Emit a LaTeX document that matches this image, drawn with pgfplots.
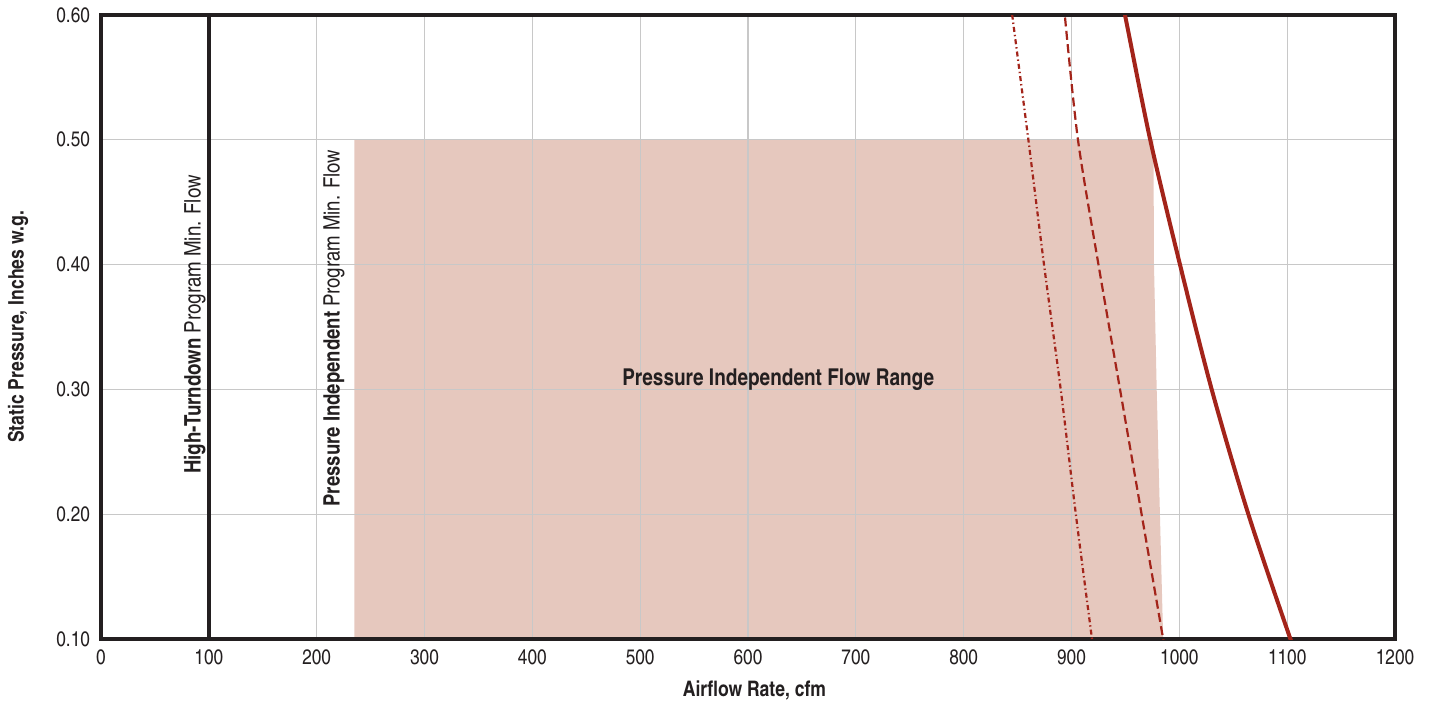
\documentclass[border=0pt]{standalone}
\usepackage{fontspec}
\setmainfont{texgyreheroscn}[Extension=.otf, UprightFont=*-regular, BoldFont=*-bold, ItalicFont=*-italic, BoldItalicFont=*-bolditalic]
\usepackage{pgfplots}
\pgfplotsset{compat=1.18}
\definecolor{frame}{HTML}{231F20}
\definecolor{gridgray}{HTML}{C8C8C8}
\definecolor{shade}{HTML}{E6C8BE}
\definecolor{curve}{HTML}{A3241A}
\begin{document}
\begin{tikzpicture}
\begin{axis}[
  at={(0,0)}, anchor=south west,
  scale only axis, width=647pt, height=312pt,
  xmin=0, xmax=1200, ymin=0.1, ymax=0.6,
  xtick={0,100,200,300,400,500,600,700,800,900,1000,1100,1200},
  ytick={0.1,0.2,0.3,0.4,0.5,0.6},
  set layers=standard,
  grid=major,
  major grid style={draw=gridgray, line width=0.6pt},
  axis line style={line width=1.6pt, draw=frame},
  major tick length=0pt,
  /pgf/number format/assume math mode=true,
  tick label style={font=\fontsize{10.5}{12}\selectfont, text=frame},
  yticklabel style={/pgf/number format/fixed, /pgf/number format/precision=2, /pgf/number format/fixed zerofill, xshift=-2pt},
  xticklabel style={/pgf/number format/1000 sep={}, yshift=-2pt},
  xlabel={\textbf{Airflow Rate, cfm}},
  ylabel={\textbf{Static Pressure, Inches w.g.}},
  label style={font=\fontsize{10.7}{12}\selectfont, text=frame},
  xlabel style={at={(axis description cs:0.505,-0.082)}, anchor=center},
  ylabel style={at={(axis description cs:-0.0641,0.5)}, anchor=center},
  clip=true,
]
\addplot[fill=shade, draw=none, on layer=axis background] coordinates {(235,0.1) (235,0.5) (976,0.5) (976.5,0.4) (979,0.3) (982,0.2) (985,0.1)} -- cycle;
\addplot[frame, line width=2.1pt] coordinates {(100,0.08) (100,0.62)};
\addplot[curve, line width=2pt, smooth] coordinates {(944.5,0.62) (949.6,0.6) (973,0.5) (1000.6,0.4) (1030,0.3) (1064,0.2) (1103,0.1) (1112,0.08)};
\addplot[curve, line width=1.1pt, smooth, dash pattern=on 4.5pt off 2.2pt] coordinates {(894,0.598) (906,0.5) (925,0.4) (945,0.3) (965,0.2) (985,0.1) (989,0.08)};
\addplot[curve, line width=1.1pt, smooth, dash pattern=on 2.5pt off 1.5pt on 0.7pt off 1.5pt] coordinates {(842,0.62) (845,0.6) (860,0.5) (874.5,0.4) (890,0.3) (904,0.2) (919,0.1) (922,0.08)};
\node[rotate=90, anchor=center, text=frame, font=\fontsize{11.4}{13}\selectfont] at (axis cs:87,0.352) {\textbf{High-Turndown} Program Min. Flow};
\node[rotate=90, anchor=center, text=frame, font=\fontsize{11.3}{13}\selectfont] at (axis cs:216,0.349) {\textbf{Pressure Independent} Program Min. Flow};
\node[anchor=center, text=frame, font=\bfseries\fontsize{11.6}{13}\selectfont] at (axis cs:628,0.3075) {Pressure Independent Flow Range};
\end{axis}
\pgfresetboundingbox
\path[use as bounding box] (-50.5pt,-31.5pt) rectangle (664.5pt,319.5pt);
\end{tikzpicture}
\end{document}
